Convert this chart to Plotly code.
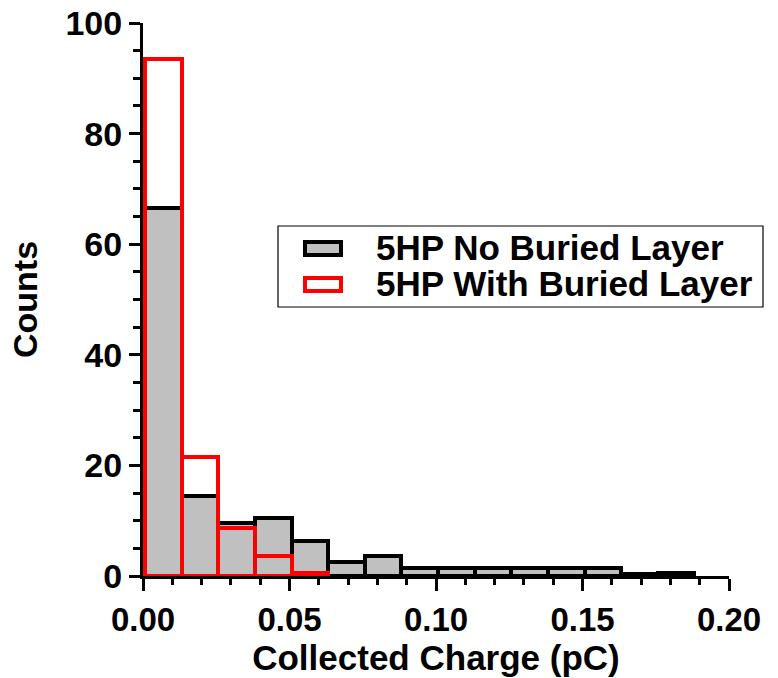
import numpy as np
import plotly.graph_objects as go

# Histogram bins (pC)
bin_start = 0.0007
bin_width = 0.0125

# Counts per bin
counts_no_buried = [66.5, 14.4, 9.5, 10.5, 6.4, 2.5, 3.6, 1.5, 1.5, 1.5, 1.5, 1.5, 1.5, 0.4, 0.6]
counts_with_buried = [93.5, 21.6, 8.7, 3.6, 0.5]

series_names = ["5HP No Buried Layer", "5HP With Buried Layer"]

x_ticks = [0.00, 0.05, 0.10, 0.15, 0.20]
x_tick_labels = ["0.00", "0.05", "0.10", "0.15", "0.20"]
y_ticks = [0, 20, 40, 60, 80, 100]


def centers(n):
    return bin_start + bin_width * (np.arange(n) + 0.5)


FONT = "Liberation Sans, Arial, Helvetica, sans-serif"
GRAY = "#c0c0c0"
RED = "#ff0000"

fig = go.Figure()
fig.add_trace(go.Bar(
    x=centers(len(counts_no_buried)), y=counts_no_buried, width=bin_width,
    name=series_names[0],
    marker=dict(color=GRAY, line=dict(color="black", width=4)),
    showlegend=False,
))
fig.add_trace(go.Bar(
    x=centers(len(counts_with_buried)), y=counts_with_buried, width=bin_width,
    name=series_names[1],
    marker=dict(color="rgba(0,0,0,0)", line=dict(color=RED, width=4)),
    showlegend=False,
))

W, H = 778, 678
L, R, T, B = 143, 49, 23, 102
pw, ph = W - L - R, H - T - B


def px_x(p):
    return (p - L) / pw


def px_y(p):
    return (H - B - p) / ph


# Legend box and entries
shapes = [
    dict(type="rect", xref="paper", yref="paper",
         x0=px_x(278), x1=px_x(763), y0=px_y(307), y1=px_y(226),
         line=dict(color="black", width=1.2), fillcolor="white", layer="above"),
    dict(type="rect", xref="paper", yref="paper",
         x0=px_x(305), x1=px_x(341), y0=px_y(255), y1=px_y(242),
         line=dict(color="black", width=4), fillcolor=GRAY, layer="above"),
    dict(type="rect", xref="paper", yref="paper",
         x0=px_x(305), x1=px_x(341), y0=px_y(291), y1=px_y(278),
         line=dict(color=RED, width=4), fillcolor="white", layer="above"),
]
legend_font = dict(family=FONT, size=35, color="black", weight=700)
annotations = [
    dict(xref="paper", yref="paper", x=px_x(374), y=px_y(247), text=series_names[0],
         showarrow=False, xanchor="left", yanchor="middle", font=legend_font),
    dict(xref="paper", yref="paper", x=px_x(374), y=px_y(283), text=series_names[1],
         showarrow=False, xanchor="left", yanchor="middle", font=legend_font),
]

fig.update_layout(
    width=W, height=H,
    margin=dict(l=L, r=R, t=T, b=B, pad=0, autoexpand=False),
    paper_bgcolor="white", plot_bgcolor="white",
    barmode="overlay",
    bargap=0,
    shapes=shapes,
    annotations=annotations,
    font=dict(family=FONT, color="black"),
)

fig.update_xaxes(
    range=[0, 0.2], automargin=False,
    tickvals=x_ticks, ticktext=x_tick_labels,
    ticks="outside", ticklen=12, tickwidth=3, tickcolor="black",
    minor=dict(dtick=0.01, tick0=0, ticks="outside", ticklen=6, tickwidth=2.5, tickcolor="black"),
    showline=True, linewidth=3, linecolor="black",
    showgrid=False, zeroline=False,
    tickfont=dict(family=FONT, size=33, color="black", weight=700),
    title=dict(text="Collected Charge (pC)", standoff=6,
               font=dict(family=FONT, size=35, color="black", weight=700)),
)
fig.update_yaxes(
    range=[0, 100], automargin=False,
    tickvals=y_ticks,
    ticks="outside", ticklen=11, tickwidth=3, tickcolor="black",
    minor=dict(dtick=5, tick0=0, ticks="outside", ticklen=7, tickwidth=2.5, tickcolor="black"),
    showline=True, linewidth=3, linecolor="black",
    showgrid=False, zeroline=False,
    tickfont=dict(family=FONT, size=34, color="black", weight=700),
    title=dict(text="Counts", standoff=18,
               font=dict(family=FONT, size=34, color="black", weight=700)),
)

fig.write_html("out.html")
